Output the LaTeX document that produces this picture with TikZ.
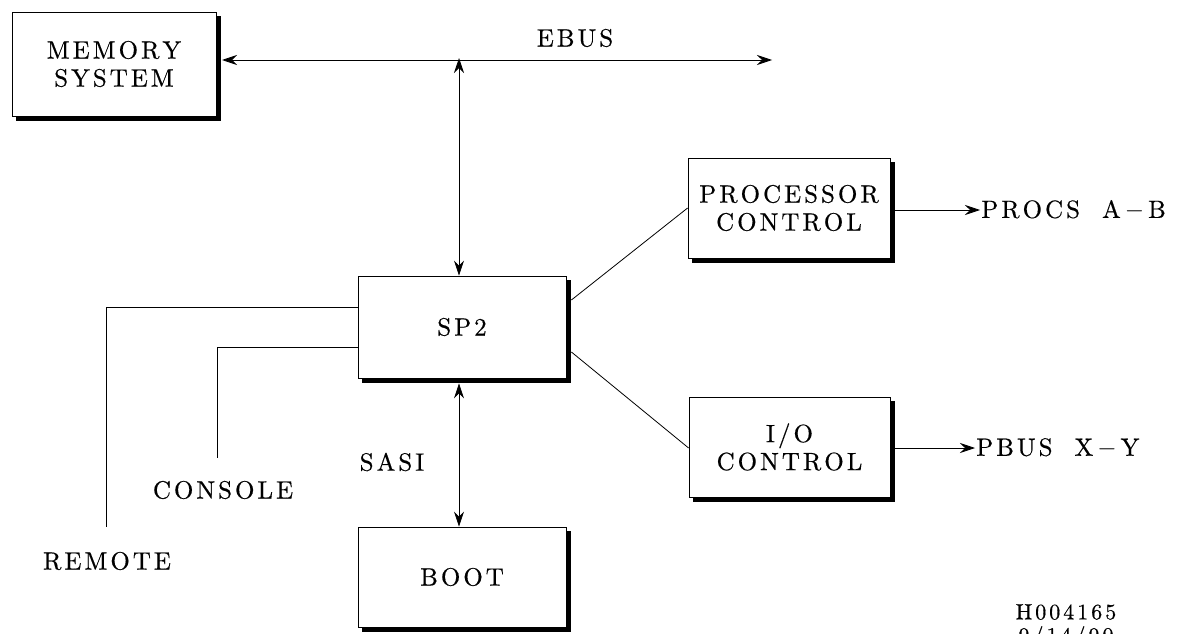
\documentclass[tikz,border=0pt]{standalone}
\usepackage{fontspec}
\newfontfamily\lmten{lmroman10-regular.otf}[FakeBold=0.45]
\usetikzlibrary{arrows.meta,calc}
\def\lspk{3pt}
\def\spc#1{\lspfirst#1\relax}
\def\lspfirst#1{#1\lsploop}
\def\lsploop#1{\ifx#1\relax\else\kern\lspk#1\expandafter\lsploop\fi}
\newcommand\dsh{\kern4pt$-$\kern4pt}
\tikzset{
  lbl/.style={font=\lmten\fontsize{25}{28}\selectfont, inner sep=1pt, align=center},
  box/.style={lbl, draw, line width=0.8pt, fill=white},
  small/.style={font=\lmten\fontsize{22}{20}\selectfont, inner sep=0pt, align=center},
  conn/.style={line width=0.8pt},
  arr/.style={conn, -{Stealth[length=15pt,width=10pt,inset=5pt]}},
  darr/.style={conn, {Stealth[length=15pt,width=10pt,inset=5pt]}-{Stealth[length=15pt,width=10pt,inset=5pt]}}
}
\begin{document}
\begin{tikzpicture}[x=1pt,y=-1pt]
\useasboundingbox (0,0) rectangle (1184,634);
% boxes
\node[box, minimum width=204pt, minimum height=104pt] (mem) at (114,64) {\spc{MEMORY}\\\spc{SYSTEM}};
\node[box, minimum width=208pt, minimum height=102pt] (sp2) at (462,327) {\spc{SP2}};
\node[box, minimum width=202pt, minimum height=100pt] (pc) at (789,208) {\spc{PROCESSOR}\\\spc{CONTROL}};
\node[box, minimum width=201pt, minimum height=100pt] (io) at (789.5,447) {\spc{I/O}\\\spc{CONTROL}};
\node[box, minimum width=208pt, minimum height=100pt] (boot) at (462,577) {\spc{BOOT}};
% shadows
\foreach \n in {mem,sp2,pc,io,boot}{
  \fill ($(\n.north east)+(0,4)$) rectangle ($(\n.south east)+(5,5)$);
  \fill ($(\n.south west)+(4,0)$) rectangle ($(\n.south east)+(5,5)$);
}
% labels
\node[lbl] (ebus) at (575,38) {\spc{EBUS}};
\node[lbl, anchor=west] (procs) at (980,210) {\spc{PROCS}\hspace{22pt}A\dsh B};
\node[lbl, anchor=west] (pbus) at (975,448) {\spc{PBUS}\hspace{22pt}X\dsh Y};
\node[lbl] (sasi) at (392,462) {\spc{SASI}};
\node[lbl] (console) at (223,490) {\spc{CONSOLE}};
\node[lbl] (remote) at (107,561) {\spc{REMOTE}};
\node[small] (hid) at (1066,612) {\spc{H004165}};
\begin{scope}
\clip (0,0) rectangle (1184,634);
\node[small, anchor=north] (date) at (1066,626) {\spc{9/14/90}};
\end{scope}
% coordinates
\coordinate (ebusL) at (222,60);
\coordinate (ebusR) at (772,60);
\coordinate (ebusJ) at (459,58);
\coordinate (remA) at (358,307);
\coordinate (remB) at (106,527);
\coordinate (conA) at (358,347);
\coordinate (conB) at (217,458);
% connectors
\draw[darr] (ebusL) -- (ebusR);
\draw[darr] (ebusJ) -- (ebusJ |- sp2.north);
\draw[darr] ($(ebusJ |- sp2.south)+(0,5)$) -- (ebusJ |- boot.north);
\draw[conn] (remA) -| (remB);
\draw[conn] (conA) -| (conB);
\draw[conn] ($(sp2.east)+(5,-27)$) -- (pc.west);
\draw[conn] ($(sp2.east)+(5,25)$) -- ($(io.west)+(0,1)$);
\draw[arr] ($(pc.east)+(5,2)$) -- (procs.west);
\draw[arr] ($(io.east)+(5,1)$) -- (pbus.west);
\end{tikzpicture}
\end{document}
